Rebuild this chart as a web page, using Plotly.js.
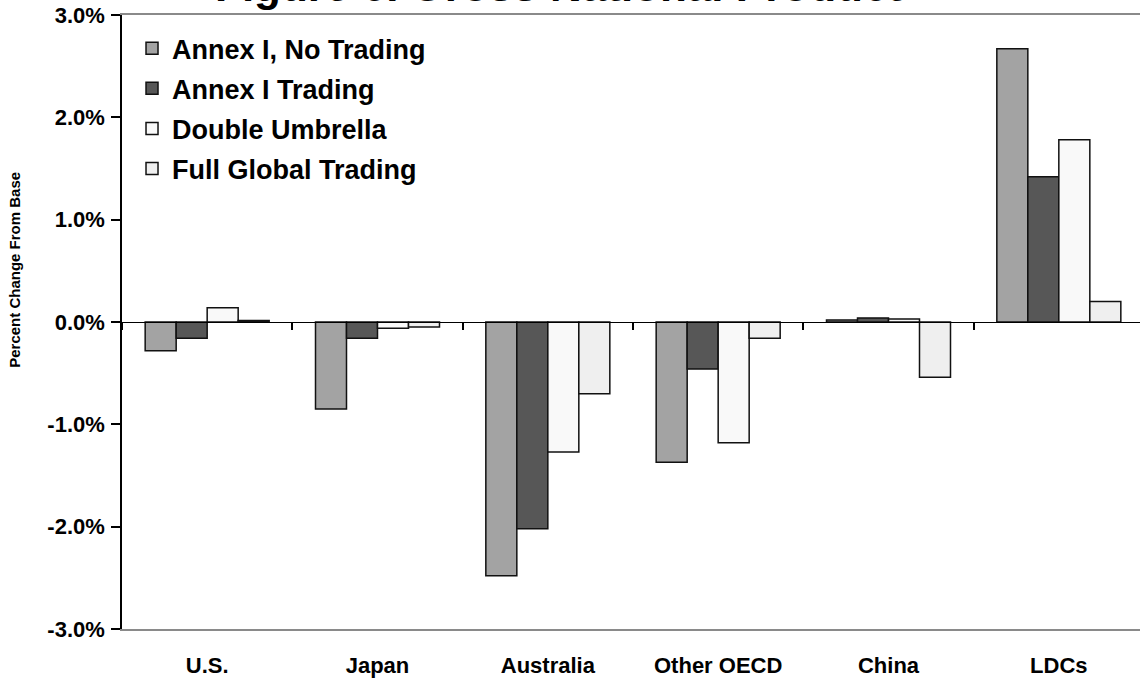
<!DOCTYPE html>
<html>
<head>
<meta charset="utf-8">
<script src="https://cdn.plot.ly/plotly-3.0.1.min.js"></script>
<style>
  html, body { margin: 0; padding: 0; background: #fff; overflow: hidden; }
  #chart { width: 1144px; height: 685px; }
</style>
</head>
<body>
<div id="chart"></div>
<script>
// Regions along the category axis
const regions = ['U.S.', 'Japan', 'Australia', 'Other OECD', 'China', 'LDCs'];

// Percent change from base, by scenario
const annexNoTrading = [-0.28, -0.85, -2.48, -1.37, 0.02, 2.67];
const annexTrading   = [-0.16, -0.16, -2.02, -0.46, 0.04, 1.42];
const doubleUmbrella = [0.14, -0.06, -1.27, -1.18, 0.03, 1.78];
const fullGlobal     = [0.015, -0.05, -0.70, -0.16, -0.54, 0.20];

// Y tick values and labels
const yTickVals = [-3, -2, -1, 0, 1, 2, 3];
const yTickText = ['-3.0%', '-2.0%', '-1.0%', '0.0%', '1.0%', '2.0%', '3.0%'];

const FONT = 'Arial, "Liberation Sans", sans-serif';

function series(name, values, fill, group) {
  return {
    type: 'bar',
    name: name,
    x: regions,
    y: values,
    legendgroup: group,
    marker: { color: fill, line: { color: '#111', width: 1.5 } },
    hovertemplate: '%{x}: %{y:.2f}%<extra>' + name + '</extra>'
  };
}

const traces = [
  series('Annex I, No Trading', annexNoTrading, '#a3a3a3', 'g1'),
  series('Annex I Trading', annexTrading, '#575757', 'g2'),
  series('Double Umbrella', doubleUmbrella, '#f9f9f9', 'g3'),
  series('Full Global Trading', fullGlobal, '#efefef', 'g4'),
  // carries the categories for the axis that crosses at zero
  {
    type: 'scatter', mode: 'markers', x: regions, y: regions.map(() => null),
    xaxis: 'x2', showlegend: false, hoverinfo: 'skip'
  }
];

const layout = {
  width: 1144,
  height: 685,
  margin: { l: 122, r: 0, t: 15, b: 56 },
  paper_bgcolor: '#fff',
  plot_bgcolor: '#fff',
  font: { family: FONT, color: '#000' },
  barmode: 'group',
  bargap: 0.272,
  bargroupgap: 0,
  showlegend: true,
  legend: {
    x: 0.0098, y: 0.985, xanchor: 'left', yanchor: 'top',
    bgcolor: 'rgba(0,0,0,0)',
    font: { family: FONT, size: 27, color: '#000', weight: 'bold' },
    tracegroupgap: 2
  },
  xaxis: {
    type: 'category',
    range: [-0.5, 5.5],
    showline: true, linecolor: '#8a8a8a', linewidth: 1.5, mirror: true,
    ticks: '', showgrid: false, zeroline: false,
    tickfont: { family: FONT, size: 22, color: '#000', weight: 'bold' },
    ticklabelstandoff: 16,
    fixedrange: true
  },
  xaxis2: {
    type: 'category',
    overlaying: 'x',
    anchor: 'free',
    position: 0.5,
    range: [-0.5, 5.5],
    showline: true, linecolor: '#000', linewidth: 1.3,
    ticks: 'outside', tickson: 'boundaries', ticklen: 7, tickwidth: 1.5, tickcolor: '#000',
    showticklabels: false, showgrid: false, zeroline: false,
    fixedrange: true
  },
  yaxis: {
    range: [-3, 3],
    tickvals: yTickVals,
    ticktext: yTickText,
    showline: true, linecolor: '#000', linewidth: 1.5,
    ticks: 'outside', ticklen: 9, tickwidth: 1.5, tickcolor: '#000',
    showgrid: false, zeroline: false,
    tickfont: { family: FONT, size: 22, color: '#000', weight: 'bold' },
    ticklabelstandoff: 2,
    fixedrange: true
  },
  annotations: [
    {
      text: 'Figure 6. Gross National Product',
      xref: 'paper', yref: 'paper', x: 0.427, y: 1.0057,
      xanchor: 'center', yanchor: 'bottom', showarrow: false,
      font: { family: FONT, size: 44, color: '#000', weight: 'bold' }
    },
    {
      text: 'Percent Change From Base',
      xref: 'paper', yref: 'paper', x: -0.1047, y: 0.585,
      xanchor: 'center', yanchor: 'middle', textangle: -90, showarrow: false,
      font: { family: FONT, size: 15, color: '#000', weight: 'bold' }
    }
  ]
};

Plotly.newPlot('chart', traces, layout, { displayModeBar: false });
</script>
</body>
</html>
